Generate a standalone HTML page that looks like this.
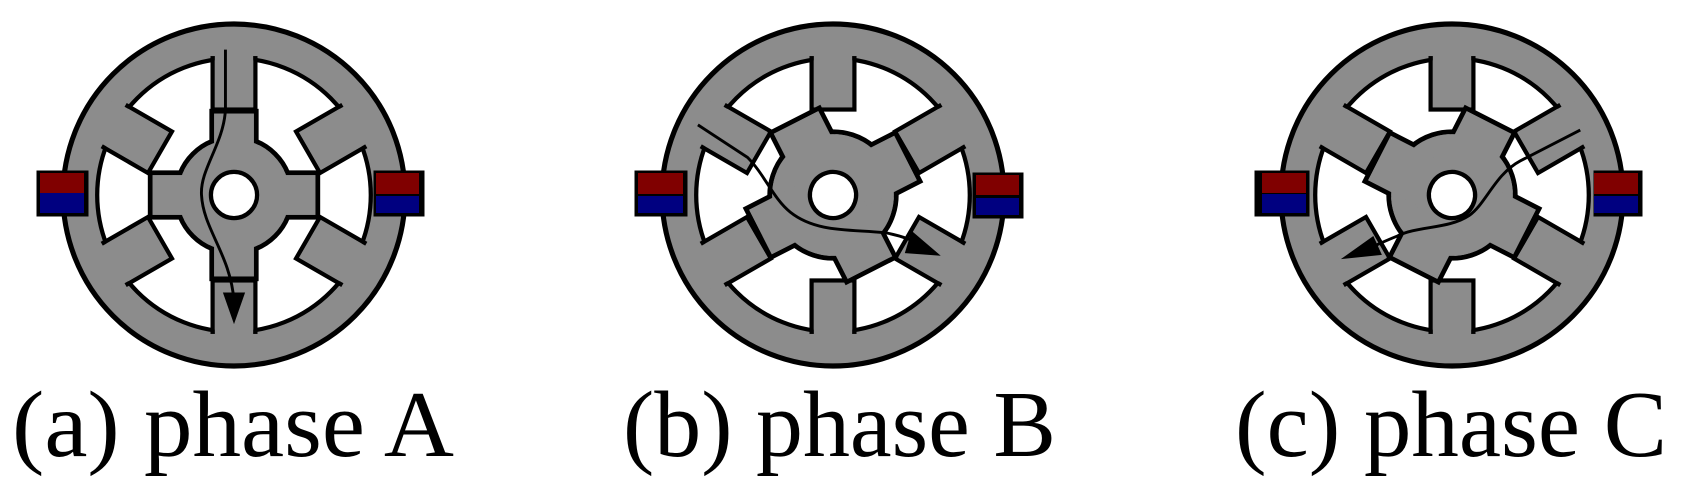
<!DOCTYPE html>
<html><head><meta charset="utf-8"><style>
html,body{margin:0;padding:0;background:#fff;}
svg{display:block;}
</style></head><body>
<svg width="1696" height="491" viewBox="0 0 1696 491" xmlns="http://www.w3.org/2000/svg">
<defs>
  <g id="statorStroke">
    <circle r="1" fill="#8c8c8c" stroke="#000" stroke-width="0.03"/>
    <circle r="0.8" fill="#fff" stroke="#000" stroke-width="0.025"/>
    <g fill="#8c8c8c" stroke="#000" stroke-width="0.025">
      <rect x="0.5" y="-0.125" width="0.3" height="0.25" transform="rotate(-90)"/>
      <rect x="0.5" y="-0.125" width="0.3" height="0.25" transform="rotate(90)"/>
      <rect x="0.5" y="-0.14" width="0.3" height="0.28" transform="rotate(-30)"/>
      <rect x="0.5" y="-0.14" width="0.3" height="0.28" transform="rotate(30)"/>
      <rect x="0.5" y="-0.14" width="0.3" height="0.28" transform="rotate(150)"/>
      <rect x="0.5" y="-0.14" width="0.3" height="0.28" transform="rotate(210)"/>
    </g>
    <g fill="#8c8c8c">
      <rect x="0.513" y="-0.112" width="0.38" height="0.224" transform="rotate(-90)"/>
      <rect x="0.513" y="-0.112" width="0.38" height="0.224" transform="rotate(90)"/>
      <rect x="0.513" y="-0.127" width="0.38" height="0.254" transform="rotate(-30)"/>
      <rect x="0.513" y="-0.127" width="0.38" height="0.254" transform="rotate(30)"/>
      <rect x="0.513" y="-0.127" width="0.38" height="0.254" transform="rotate(150)"/>
      <rect x="0.513" y="-0.127" width="0.38" height="0.254" transform="rotate(210)"/>
    </g>
  </g>
  <g id="rotor">
    <g fill="#8c8c8c" stroke="#000" stroke-width="0.028">
      <circle r="0.34"/>
      <rect x="0" y="-0.13" width="0.49" height="0.26"/>
      <rect x="0" y="-0.13" width="0.49" height="0.26" transform="rotate(90)"/>
      <rect x="0" y="-0.13" width="0.49" height="0.26" transform="rotate(180)"/>
      <rect x="0" y="-0.13" width="0.49" height="0.26" transform="rotate(270)"/>
    </g>
    <g fill="#8c8c8c">
      <circle r="0.326"/>
      <rect x="0" y="-0.116" width="0.476" height="0.232"/>
      <rect x="0" y="-0.116" width="0.476" height="0.232" transform="rotate(90)"/>
      <rect x="0" y="-0.116" width="0.476" height="0.232" transform="rotate(180)"/>
      <rect x="0" y="-0.116" width="0.476" height="0.232" transform="rotate(270)"/>
    </g>
    <circle r="0.135" fill="#fff" stroke="#000" stroke-width="0.025"/>
  </g>
  <g id="rotor2">
    <g fill="#8c8c8c" stroke="#000" stroke-width="0.028">
      <circle r="0.37"/>
      <rect x="0" y="-0.16" width="0.49" height="0.32"/>
      <rect x="0" y="-0.16" width="0.49" height="0.32" transform="rotate(90)"/>
      <rect x="0" y="-0.16" width="0.49" height="0.32" transform="rotate(180)"/>
      <rect x="0" y="-0.16" width="0.49" height="0.32" transform="rotate(270)"/>
    </g>
    <g fill="#8c8c8c">
      <circle r="0.356"/>
      <rect x="0" y="-0.146" width="0.476" height="0.292"/>
      <rect x="0" y="-0.146" width="0.476" height="0.292" transform="rotate(90)"/>
      <rect x="0" y="-0.146" width="0.476" height="0.292" transform="rotate(180)"/>
      <rect x="0" y="-0.146" width="0.476" height="0.292" transform="rotate(270)"/>
    </g>
    <circle r="0.135" fill="#fff" stroke="#000" stroke-width="0.025"/>
  </g>
</defs>

<!-- Motor A -->
<g transform="translate(234,195) scale(171)">
  <use href="#statorStroke"/>
  <use href="#rotor"/>
  <path d="M -0.05 -0.85 L -0.05 -0.5 C -0.06 -0.3 -0.2 -0.15 -0.19 0 C -0.18 0.2 -0.02 0.35 0 0.62" fill="none" stroke="#000" stroke-width="0.017"/>
  <path d="M -0.065 0.57 L 0.065 0.57 L 0 0.755 Z" fill="#000"/>
</g>
<g>
  <rect x="36.5" y="170.5" width="52" height="46" fill="#000"/>
  <rect x="40" y="173" width="44" height="20" fill="#800000"/>
  <rect x="40" y="193" width="44" height="20" fill="#000080"/>
  <rect x="373.5" y="170.5" width="51" height="46" fill="#000"/>
  <rect x="376" y="173" width="43" height="21" fill="#800000"/>
  <rect x="376" y="196" width="43" height="17" fill="#000080"/>
</g>

<!-- Motor B -->
<g transform="translate(833,195) scale(171)">
  <use href="#statorStroke"/>
  <g transform="rotate(-27)"><use href="#rotor2"/></g>
  <path d="M -0.79 -0.41 L -0.5 -0.22 C -0.4 -0.12 -0.35 0.02 -0.25 0.1 C -0.1 0.22 0.1 0.2 0.3 0.22 C 0.42 0.24 0.5 0.28 0.55 0.31" fill="none" stroke="#000" stroke-width="0.017"/>
  <path d="M 0.46 0.21 L 0.63 0.355 L 0.42 0.34 Z" fill="#000"/>
</g>
<g>
  <rect x="634.5" y="170.5" width="53" height="46" fill="#000"/>
  <rect x="638" y="173" width="45" height="21" fill="#800000"/>
  <rect x="638" y="196" width="45" height="17" fill="#000080"/>
  <rect x="972.5" y="172.5" width="51" height="46" fill="#000"/>
  <rect x="976" y="175" width="43" height="20" fill="#800000"/>
  <rect x="976" y="198" width="43" height="17" fill="#000080"/>
</g>

<!-- Motor C -->
<g transform="translate(1452,195) scale(171)">
  <use href="#statorStroke"/>
  <g transform="rotate(27)"><use href="#rotor2"/></g>
  <path d="M 0.75 -0.38 L 0.4 -0.2 C 0.25 -0.12 0.2 0.05 0.1 0.12 C -0.02 0.2 -0.2 0.18 -0.32 0.24 C -0.42 0.28 -0.5 0.32 -0.55 0.34" fill="none" stroke="#000" stroke-width="0.017"/>
  <path d="M -0.46 0.24 L -0.65 0.375 L -0.41 0.35 Z" fill="#000"/>
</g>
<g>
  <rect x="1254.5" y="170.5" width="55" height="46" fill="#000"/>
  <rect x="1262" y="173" width="44" height="20" fill="#800000"/>
  <rect x="1262" y="194" width="44" height="19" fill="#000080"/>
  <rect x="1593.5" y="170.5" width="49" height="46" fill="#000"/>
  <rect x="1594" y="173" width="44" height="21" fill="#800000"/>
  <rect x="1594" y="196" width="44" height="17" fill="#000080"/>
</g>

<g font-family="Liberation Serif, serif" font-size="94" fill="#000">
  <text x="12" y="456" textLength="442" lengthAdjust="spacingAndGlyphs">(a) phase A</text>
  <text x="623" y="456" textLength="433" lengthAdjust="spacingAndGlyphs">(b) phase B</text>
  <text x="1235" y="456" textLength="432" lengthAdjust="spacingAndGlyphs">(c) phase C</text>
</g>
</svg>
</body></html>
